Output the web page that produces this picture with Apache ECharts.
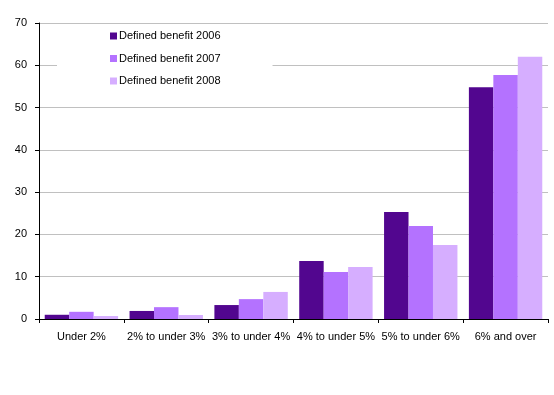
<!DOCTYPE html>
<html><head><meta charset="utf-8">
<script src="https://cdn.jsdelivr.net/npm/echarts@6/dist/echarts.min.js"></script>
<style>html,body{margin:0;padding:0;background:#fff}#c{width:554px;height:395px}</style>
</head><body><div id="c"></div>
<script>
const categories = ["Under 2%", "2% to under 3%", "3% to under 4%", "4% to under 5%", "5% to under 6%", "6% and over"];
const seriesNames = ["Defined benefit 2006", "Defined benefit 2007", "Defined benefit 2008"];
const db2006 = [1.0, 1.9, 3.3, 13.7, 25.3, 54.8];
const db2007 = [1.7, 2.8, 4.7, 11.1, 22.0, 57.7];
const db2008 = [0.7, 0.95, 6.4, 12.3, 17.5, 62.0];
const colors = ["#52068F", "#B472FF", "#D6AEFF"];
const values = [db2006, db2007, db2008];

const chart = echarts.init(document.getElementById('c'), null, {renderer: 'canvas'});
const font = "Liberation Sans, Arial, sans-serif";
chart.setOption({
  animation: false,
  textStyle: {fontFamily: font},
  grid: {left: 39, right: 6, top: 23, bottom: 76, containLabel: false},
  legend: {
    orient: 'vertical', left: 57, top: 26, z: 10,
    backgroundColor: '#fff',
    padding: [4, 52, 8, 53],
    itemGap: 10.5, itemWidth: 7, itemHeight: 7, icon: 'rect',
    textStyle: {fontSize: 11, color: '#000', fontFamily: font, lineHeight: 12, padding: [0,0,0,-3]},
    data: seriesNames
  },
  xAxis: {
    type: 'category', data: categories,
    axisLine: {lineStyle: {color: '#000'}},
    axisTick: {show: true, length: 4, lineStyle: {color: '#000'}},
    axisLabel: {color: '#000', fontSize: 11, margin: 12, interval: 0, fontFamily: font},
    splitLine: {show: false}
  },
  yAxis: {
    type: 'value', min: 0, max: 70, interval: 10,
    axisLine: {show: true, lineStyle: {color: '#000'}},
    axisTick: {show: true, length: 4, lineStyle: {color: '#000'}},
    axisLabel: {color: '#000', fontSize: 11, margin: 12, fontFamily: font},
    splitLine: {lineStyle: {color: '#c0c0c0', width: 1}}
  },
  series: seriesNames.map((n, i) => ({
    name: n, type: 'bar', data: values[i],
    itemStyle: {color: colors[i]},
    barGap: '0%', barCategoryGap: '13.5%'
  }))
});
</script></body></html>
